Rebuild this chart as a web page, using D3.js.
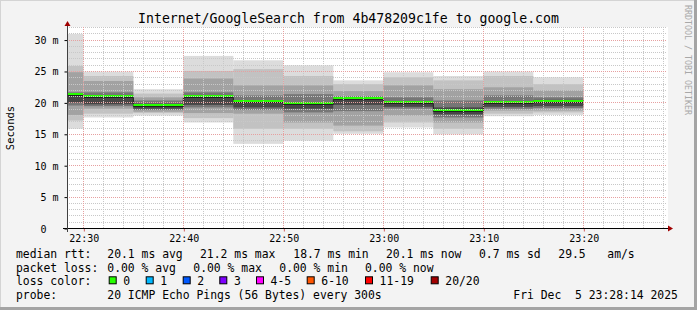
<!DOCTYPE html>
<html>
<head>
<meta charset="utf-8">
<script src="https://cdn.jsdelivr.net/npm/d3@7"></script>
<style>
  body { margin: 0; background: #f3f3f3; }
  text { font-family: "DejaVu Sans Mono", monospace; fill: #000; }
</style>
</head>
<body>
<div id="chart"></div>
<script>
// step end times (5 minute steps)
var barEnds = ["22:30", "22:35", "22:40", "22:45", "22:50", "22:55", "23:00", "23:05", "23:10", "23:15", "23:20"];
// median rtt in ms
var median = [21.2, 20.8, 19.5, 20.8, 20.0, 19.7, 20.5, 19.9, 18.7, 19.9, 20.1];
// smoke bands, outer (light) to inner (dark), ms
var smokeHi = [
    [30.9, 24.9, 22.1, 27.4, 26.7, 25.9, 23.5, 24.8, 24.2, 24.9, 24.0],
    [25.8, 24.2, 21.4, 25.0, 25.3, 24.2, 22.9, 24.0, 23.5, 24.2, 22.9],
    [24.8, 23.4, 20.8, 23.8, 22.7, 22.7, 21.8, 22.7, 22.1, 22.4, 21.9],
    [21.6, 21.6, 20.3, 21.6, 21.1, 21.3, 21.0, 20.8, 20.3, 21.1, 20.8],
    [21.3, 21.0, 19.8, 21.0, 20.3, 19.9, 20.7, 20.2, 19.2, 20.2, 20.4]
];
var smokeLo = [
    [15.8, 17.6, 17.9, 16.8, 13.4, 13.9, 15.0, 16.0, 14.9, 17.8, 18.0],
    [17.1, 18.2, 18.3, 17.5, 15.8, 15.8, 15.4, 16.8, 15.8, 18.2, 18.4],
    [18.0, 19.0, 18.5, 18.3, 18.2, 16.8, 16.3, 17.9, 16.8, 18.7, 18.7],
    [19.5, 19.4, 18.8, 19.2, 18.8, 18.4, 18.6, 19.0, 17.6, 19.0, 19.1],
    [20.0, 19.7, 19.0, 19.6, 19.2, 19.0, 19.6, 19.3, 18.1, 19.3, 19.4]
];
var bandColors = ["#dcdcdc", "#c2c2c2", "#a2a2a2", "#767676", "#464646"];

var yTicks = [0, 5, 10, 15, 20, 25, 30];
var xLabels = ["22:30", "22:40", "22:50", "23:00", "23:10", "23:20"];

var lossLabels = ["0", "1", "2", "3", "4-5", "6-10", "11-19", "20/20"];
var lossColors = ["#26ff00", "#00b8ff", "#0059ff", "#7e00ff", "#ff00ff", "#ff5500", "#ff0000", "#a10000"];

var W = 697, H = 310;
var plot = {left: 67, right: 667, top: 27, bottom: 228};

var parseT = function(s) { return d3.timeParse("%Y-%m-%d %H:%M:%S")("2025-12-05 " + s + (s.length == 5 ? ":00" : "")); };

var x = d3.scaleTime()
    .domain([parseT("22:28:22"), parseT("23:28:22")])
    .range([plot.left, plot.right]);
var y = d3.scaleLinear()
    .domain([0, 32])
    .range([plot.bottom, plot.top]);

var svg = d3.select("#chart").append("svg")
    .attr("width", W)
    .attr("height", H);

// frame
svg.append("rect").attr("width", W).attr("height", H).attr("fill", "#f3f3f3");
svg.append("rect").attr("x", 0).attr("y", 0).attr("width", W).attr("height", 1).attr("fill", "#d4d4d4");
svg.append("rect").attr("x", 0).attr("y", 0).attr("width", 1).attr("height", H).attr("fill", "#d4d4d4");
svg.append("rect").attr("x", W - 3).attr("y", 0).attr("width", 3).attr("height", H).attr("fill", "#a4a4a4");
svg.append("rect").attr("x", 0).attr("y", H - 3).attr("width", W).attr("height", 3).attr("fill", "#a4a4a4");

// canvas
svg.append("rect")
    .attr("x", plot.left).attr("y", plot.top)
    .attr("width", plot.right - plot.left + 1).attr("height", plot.bottom - plot.top)
    .attr("fill", "#fff");

svg.append("defs").append("clipPath").attr("id", "clip")
    .append("rect")
    .attr("x", plot.left).attr("y", plot.top)
    .attr("width", plot.right - plot.left).attr("height", plot.bottom - plot.top);

var bars = barEnds.map(function(t, i) {
    var end = parseT(t);
    return {i: i, end: end, start: d3.timeMinute.offset(end, -5), med: median[i]};
});

var g = svg.append("g").attr("clip-path", "url(#clip)");

// smoke
smokeHi.forEach(function(hi, lev) {
    g.selectAll(".band" + lev)
        .data(bars)
        .enter()
        .append("rect")
        .attr("class", "band" + lev)
        .attr("x", function(d) { return x(d.start); })
        .attr("width", function(d) { return x(d.end) - x(d.start); })
        .attr("y", function(d) { return y(hi[d.i]); })
        .attr("height", function(d) { return y(smokeLo[lev][d.i]) - y(hi[d.i]); })
        .attr("fill", bandColors[lev]);
});

// median: dark step line + green loss band
var stepLine = d3.line()
    .x(function(d) { return x(d.t); })
    .y(function(d) { return Math.round(y(d.v)) + 0.5; });
var pts = [];
bars.forEach(function(d) {
    pts.push({t: d.start, v: d.med});
    pts.push({t: d.end, v: d.med});
});
g.append("path")
    .attr("d", stepLine(pts))
    .attr("fill", "none")
    .attr("stroke", "#202020")
    .attr("stroke-width", 1);

g.selectAll(".med")
    .data(bars)
    .enter()
    .append("rect")
    .attr("class", "med")
    .attr("x", function(d) { return x(d.start); })
    .attr("width", function(d) { return x(d.end) - x(d.start); })
    .attr("y", function(d) { return Math.round(y(d.med)) - 2; })
    .attr("height", 2)
    .attr("fill", lossColors[0]);

// grid (drawn on top like rrdtool)
var grid = svg.append("g");
var minorY = d3.range(0, 33, 1).filter(function(v) { return v % 5 != 0; });
grid.selectAll(".gy")
    .data(minorY)
    .enter()
    .append("line")
    .attr("x1", plot.left).attr("x2", plot.right)
    .attr("y1", function(d) { return Math.round(y(d)) + 0.5; })
    .attr("y2", function(d) { return Math.round(y(d)) + 0.5; })
    .attr("stroke", "#c8c8c8")
    .attr("stroke-dasharray", "1,1");

var minorX = d3.timeMinute.every(2).range(x.domain()[0], x.domain()[1])
    .filter(function(d) { return d.getMinutes() % 10 != 0; });
grid.selectAll(".gx")
    .data(minorX)
    .enter()
    .append("line")
    .attr("y1", plot.top).attr("y2", plot.bottom)
    .attr("x1", function(d) { return Math.round(x(d)) + 0.5; })
    .attr("x2", function(d) { return Math.round(x(d)) + 0.5; })
    .attr("stroke", "#c8c8c8")
    .attr("stroke-dasharray", "1,1");

grid.selectAll(".My")
    .data(yTicks.slice(1))
    .enter()
    .append("line")
    .attr("x1", plot.left).attr("x2", plot.right)
    .attr("y1", function(d) { return Math.round(y(d)) + 0.5; })
    .attr("y2", function(d) { return Math.round(y(d)) + 0.5; })
    .attr("stroke", "#e6a0a0")
    .attr("stroke-dasharray", "1,1");

grid.selectAll(".Mx")
    .data(xLabels)
    .enter()
    .append("line")
    .attr("y1", plot.top).attr("y2", plot.bottom)
    .attr("x1", function(d) { return Math.round(x(parseT(d))) + 0.5; })
    .attr("x2", function(d) { return Math.round(x(parseT(d))) + 0.5; })
    .attr("stroke", "#e6a0a0")
    .attr("stroke-dasharray", "1,1");

// axes
var yAxis = d3.axisLeft(y)
    .tickValues(yTicks)
    .tickSize(3)
    .tickPadding(6)
    .tickFormat(function(d) { return d == 0 ? "0  " : d + " m"; });
var gy = svg.append("g")
    .attr("transform", "translate(" + (plot.left + 0.5) + ",0.5)")
    .call(yAxis);
gy.select(".domain").remove();
gy.selectAll("text")
    .style("font-size", "10px")
    .style("white-space", "pre")
    .attr("dy", "0.35em");
gy.selectAll("line").attr("stroke", "#000");

var xAxis = d3.axisBottom(x)
    .tickValues(xLabels.map(parseT))
    .tickSize(3)
    .tickPadding(3)
    .tickFormat(d3.timeFormat("%H:%M"));
var gx = svg.append("g")
    .attr("transform", "translate(0.5," + (plot.bottom + 0.5) + ")")
    .call(xAxis);
gx.select(".domain").remove();
gx.selectAll("text").style("font-size", "10px");
gx.selectAll("line").attr("stroke", "#d06060");

// axis lines + arrows
svg.append("line")
    .attr("x1", plot.left - 4).attr("x2", plot.right + 2)
    .attr("y1", plot.bottom + 0.5).attr("y2", plot.bottom + 0.5)
    .attr("stroke", "#000");
svg.append("line")
    .attr("x1", plot.left + 0.5).attr("x2", plot.left + 0.5)
    .attr("y1", plot.top - 2).attr("y2", plot.bottom + 4)
    .attr("stroke", "#404040");
svg.append("path")
    .attr("d", "M" + (plot.right + 1) + "," + (plot.bottom - 2.5) + "L" + (plot.right + 6) + "," + (plot.bottom + 0.5) + "L" + (plot.right + 1) + "," + (plot.bottom + 3.5) + "Z")
    .attr("fill", "#a00000");
svg.append("path")
    .attr("d", "M" + (plot.left - 2.5) + "," + (plot.top - 1) + "L" + (plot.left + 0.5) + "," + (plot.top - 6) + "L" + (plot.left + 3.5) + "," + (plot.top - 1) + "Z")
    .attr("fill", "#a00000");

// title
svg.append("text")
    .attr("x", W / 2).attr("y", 23)
    .attr("text-anchor", "middle")
    .style("font-size", "13.2px")
    .text("Internet/GoogleSearch from 4b478209c1fe to google.com");

svg.append("text")
    .attr("transform", "translate(14,128) rotate(-90)")
    .attr("text-anchor", "middle")
    .style("font-size", "10.5px")
    .text("Seconds");

svg.append("text")
    .attr("transform", "translate(685,5) rotate(90)")
    .style("font-size", "8.3px")
    .style("fill", "#a8a8a8")
    .text("RRDTOOL / TOBI OETIKER");

// legend
var lg = svg.append("g").style("font-size", "11.4px");
var avg = d3.mean(median), mx = d3.max(median), mn = d3.min(median), now = median[median.length - 1];
var rows = [
    [[16, "median rtt:"], [107.3, avg.toFixed(1) + " ms avg"], [200, mx.toFixed(1) + " ms max"],
     [293.3, mn.toFixed(1) + " ms min"], [386, now.toFixed(1) + " ms now"], [479, "0.7 ms sd"],
     [558.3, "29.5"], [607.3, "am/s"]],
    [[16, "packet loss:"], [107.3, "0.00 % avg"], [193.3, "0.00 % max"], [279.3, "0.00 % min"], [365, "0.00 % now"]],
    [[16, "loss color:"]],
    [[16, "probe:"], [107.3, "20 ICMP Echo Pings (56 Bytes) every 300s"], [513.3, "Fri Dec  5 23:28:14 2025"]]
];
var rowY = [258.3, 271.8, 285.3, 298.8];
rows.forEach(function(r, i) {
    lg.selectAll(".r" + i)
        .data(r)
        .enter()
        .append("text")
        .attr("x", function(d) { return d[0]; })
        .attr("y", rowY[i])
        .style("white-space", "pre")
        .text(function(d) { return d[1]; });
});

var boxX = [108.7, 145.7, 182.7, 219.3, 256, 306.7, 365, 430.7];
lg.selectAll(".lbox")
    .data(lossLabels)
    .enter()
    .append("rect")
    .attr("x", function(d, i) { return boxX[i] + 0.5; })
    .attr("y", rowY[2] - 8.5)
    .attr("width", 7).attr("height", 7)
    .attr("fill", function(d, i) { return lossColors[i]; })
    .attr("stroke", "#000");
lg.selectAll(".ltxt")
    .data(lossLabels)
    .enter()
    .append("text")
    .attr("x", function(d, i) { return boxX[i] + 14.6; })
    .attr("y", rowY[2])
    .text(function(d) { return d; });
</script>
</body>
</html>
